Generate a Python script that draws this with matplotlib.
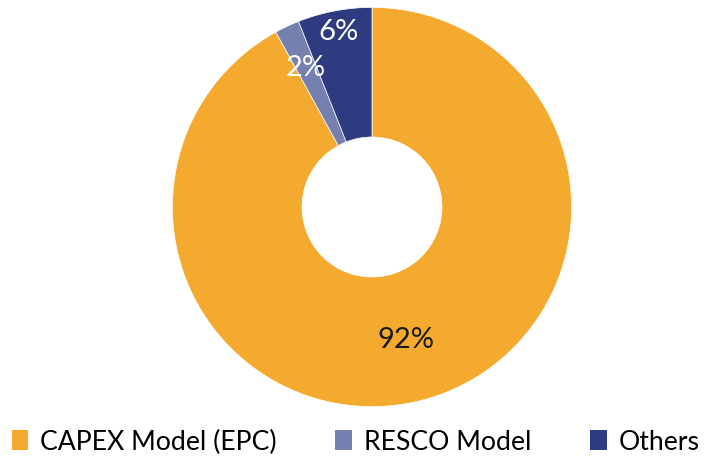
import numpy as np
import matplotlib.pyplot as plt
from matplotlib.patches import Patch

labels = ['CAPEX Model (EPC)', 'RESCO Model', 'Others']
shares = [92, 2, 6]
colors = ['#F4A92F', '#7580AE', '#2E3B80']
pct_colors = ['#1a1a1a', 'white', 'white']
pct_dist = [0.675, 0.78, 0.9]

plt.rcParams['font.family'] = ['Lato', 'DejaVu Sans']

fig = plt.figure(figsize=(7.07, 4.59), dpi=100)
ax = fig.add_axes([(372 - 200) / 707, (459 - 207 - 200) / 459, 400 / 707, 400 / 459])

wedges, _ = ax.pie(shares, colors=colors, startangle=90, counterclock=False,
                   radius=0.998, wedgeprops=dict(width=0.998 - 0.35, linewidth=0.5, edgecolor='white'))

for w, v, c, d in zip(wedges, shares, pct_colors, pct_dist):
    ang = np.deg2rad((w.theta1 + w.theta2) / 2)
    ax.text(d * np.cos(ang), d * np.sin(ang) - 0.01, f'{v}%', ha='center', va='center',
            fontsize=21, color=c)

ax.set_xlim(-1, 1)
ax.set_ylim(-1, 1)
ax.set_aspect('equal')
ax.axis('off')

handles = [Patch(facecolor=c, edgecolor='none') for c in colors]
fig.legend(handles, labels, loc='center', bbox_to_anchor=(0.503, 1 - 442 / 459), ncol=3,
           frameon=False, prop=dict(size=19.2), handlelength=0.62, handleheight=0.75,
           handletextpad=0.45, columnspacing=2.2, borderaxespad=0)

fig.savefig('out.png', dpi=100)
